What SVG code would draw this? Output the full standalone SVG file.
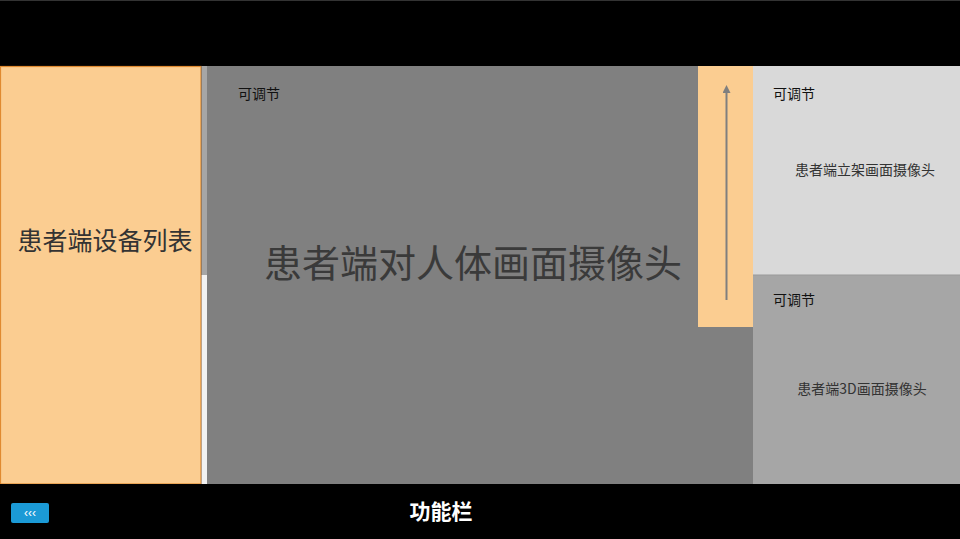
<svg xmlns="http://www.w3.org/2000/svg" width="960" height="539" viewBox="0 0 960 539">
<style>
.cjk{font-family:"Noto Sans CJK SC","Noto Sans",sans-serif}
.lbl{font-size:14px;fill:#111}
.cap{font-size:14px;fill:#333;text-anchor:middle}
</style>
<defs>
<marker id="ah" markerWidth="8" markerHeight="8" refX="4" refY="4" orient="auto" markerUnits="userSpaceOnUse">
<path d="M0,8 L4,0 L8,8 Z" fill="#7f7f7f" transform="rotate(90 4 4)"/>
</marker>
</defs>
<rect x="0" y="0" width="960" height="539" fill="#000"/>
<rect x="0.5" y="0.5" width="959" height="538" fill="none" stroke="#333"/>
<g id="top-bar"><rect x="0" y="1" width="960" height="65" fill="#000"/></g>
<g id="device-list">
<rect x="0.5" y="66.5" width="200.5" height="417.5" fill="#fbcd91" stroke="#e08a30" stroke-width="1.2"/>
<text class="cjk" x="105" y="250" font-size="25" fill="#333" text-anchor="middle">患者端设备列表</text>
</g>
<g id="splitter">
<rect x="201.5" y="66" width="5.5" height="209" fill="#a6a6a6"/>
<rect x="201.5" y="275" width="5.5" height="209" fill="#f2f2f2"/>
</g>
<g id="main-camera">
<rect x="207" y="66" width="546" height="418" fill="#808080"/>
<text class="cjk lbl" x="238" y="99">可调节</text>
<text class="cjk" x="473" y="277" font-size="38" fill="#3a3a3a" text-anchor="middle">患者端对人体画面摄像头</text>
</g>
<g id="adjust-bar">
<rect x="698" y="66" width="55" height="261" fill="#fbcd91"/>
</g>
<g id="stand-camera">
<rect x="753" y="66" width="207" height="209" fill="#d9d9d9"/>
<text class="cjk lbl" x="773" y="99">可调节</text>
<text class="cjk cap" x="865" y="175">患者端立架画面摄像头</text>
</g>
<g id="camera-3d">
<rect x="753" y="275" width="207" height="209" fill="#a6a6a6"/>
<line x1="753" y1="275" x2="960" y2="275" stroke="#999" stroke-width="1"/>
<text class="cjk lbl" x="773" y="305">可调节</text>
<text class="cjk cap" x="862" y="394">患者端3D画面摄像头</text>
</g>
<g id="function-bar">
<rect x="0" y="484" width="960" height="55" fill="#000"/>
<text class="cjk" x="441" y="519" font-size="21" font-weight="bold" fill="#fff" text-anchor="middle">功能栏</text>
</g>
<g id="back-button">
<rect x="11" y="503" width="38" height="20" rx="2" fill="#1b9ad6"/>
<text x="30" y="517" font-family="Liberation Sans,sans-serif" font-size="12" fill="#fff" text-anchor="middle">‹‹‹</text>
</g>
<g id="connectors">
<line x1="726.5" y1="300" x2="726.5" y2="89" stroke="#7f7f7f" stroke-width="2" marker-end="url(#ah)"/>
</g>
</svg>
